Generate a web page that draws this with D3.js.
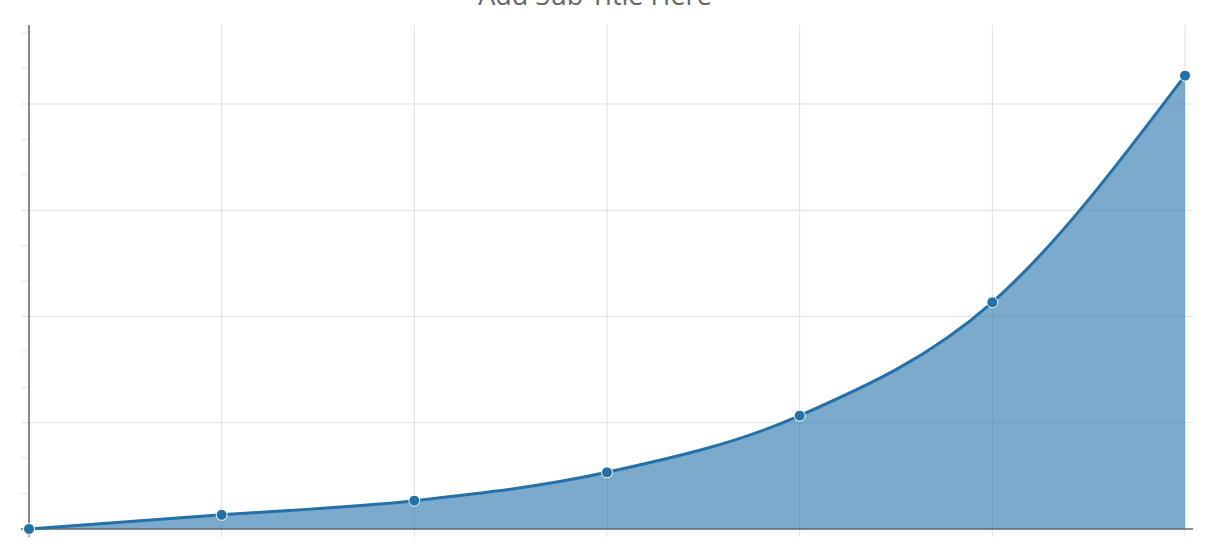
<!DOCTYPE html>
<html lang="en">
<head>
  <meta charset="UTF-8">
  <title>Area Chart</title>
  <script src="https://cdn.jsdelivr.net/npm/d3@7"></script>
  <style>
    body { margin: 0; background: #fff; overflow: hidden; }
    .grid line { stroke: #e0e0e0; stroke-width: 1; }
    .minor line { stroke: #e6e6e6; stroke-width: 1; }
    .subtitle { font-family: "Open Sans", sans-serif; font-size: 27px; fill: #666; }
  </style>
</head>
<body>
  <div id="chart"></div>
  <script>
    const categories = [0, 1, 2, 3, 4, 5, 6];
    const values = [0, 4, 8, 16, 32, 64, 128];
    const yMajorTicks = [0, 30, 60, 90, 120];
    const yMinorTicks = [10, 20, 40, 50, 70, 80, 100, 110, 130, 140];

    const width = 1207, height = 552;
    const plotLeft = 29, plotRight = 1185, plotTop = 25, plotBottom = 529;

    const svg = d3.select('#chart').append('svg')
      .attr('width', width)
      .attr('height', height);

    const x = d3.scaleLinear().domain([0, 6]).range([plotLeft, plotRight]);
    const y = d3.scaleLinear().domain([0, 142.3]).range([plotBottom, plotTop]);

    // subtitle, pushed up off the top edge like the original
    svg.append('text')
      .attr('class', 'subtitle')
      .attr('x', 595)
      .attr('y', 4.5)
      .attr('text-anchor', 'middle')
      .text('Add Sub Title Here');

    // vertical grid
    svg.append('g').attr('class', 'grid')
      .selectAll('line').data(categories).join('line')
      .attr('x1', d => x(d)).attr('x2', d => x(d))
      .attr('y1', plotTop).attr('y2', plotBottom + 8);

    // horizontal grid
    svg.append('g').attr('class', 'grid')
      .selectAll('line').data(yMajorTicks.filter(d => d > 0)).join('line')
      .attr('x1', plotLeft - 8).attr('x2', plotRight + 8)
      .attr('y1', d => y(d)).attr('y2', d => y(d));

    // minor ticks on y axis
    svg.append('g').attr('class', 'minor')
      .selectAll('line').data(yMinorTicks).join('line')
      .attr('x1', plotLeft - 8).attr('x2', plotLeft)
      .attr('y1', d => y(d)).attr('y2', d => y(d));

    const area = d3.area()
      .x((d, i) => x(categories[i]))
      .y0(y(0))
      .y1(d => y(d))
      .curve(d3.curveMonotoneX);

    const line = d3.line()
      .x((d, i) => x(categories[i]))
      .y(d => y(d))
      .curve(d3.curveMonotoneX);

    svg.append('path')
      .datum(values)
      .attr('d', area)
      .attr('fill', '#1f6fa8')
      .attr('fill-opacity', 0.59);

    // axes
    svg.append('line')
      .attr('x1', plotLeft).attr('x2', plotLeft)
      .attr('y1', plotTop).attr('y2', plotBottom)
      .attr('stroke', '#666').attr('stroke-width', 1.5);
    svg.append('line')
      .attr('x1', plotLeft - 8).attr('x2', plotRight + 8)
      .attr('y1', plotBottom).attr('y2', plotBottom)
      .attr('stroke', '#666').attr('stroke-width', 1.5);
    svg.append('line')
      .attr('x1', plotLeft).attr('x2', plotLeft)
      .attr('y1', plotBottom).attr('y2', plotBottom + 8)
      .attr('stroke', '#666').attr('stroke-width', 1);

    svg.append('path')
      .datum(values)
      .attr('d', line)
      .attr('fill', 'none')
      .attr('stroke', '#2471a9')
      .attr('stroke-width', 3);

    svg.append('g')
      .selectAll('circle').data(values).join('circle')
      .attr('cx', (d, i) => x(categories[i]))
      .attr('cy', d => y(d))
      .attr('r', 5.5)
      .attr('fill', '#2471a9')
      .attr('stroke', '#fff')
      .attr('stroke-width', 1);
  </script>
</body>
</html>
